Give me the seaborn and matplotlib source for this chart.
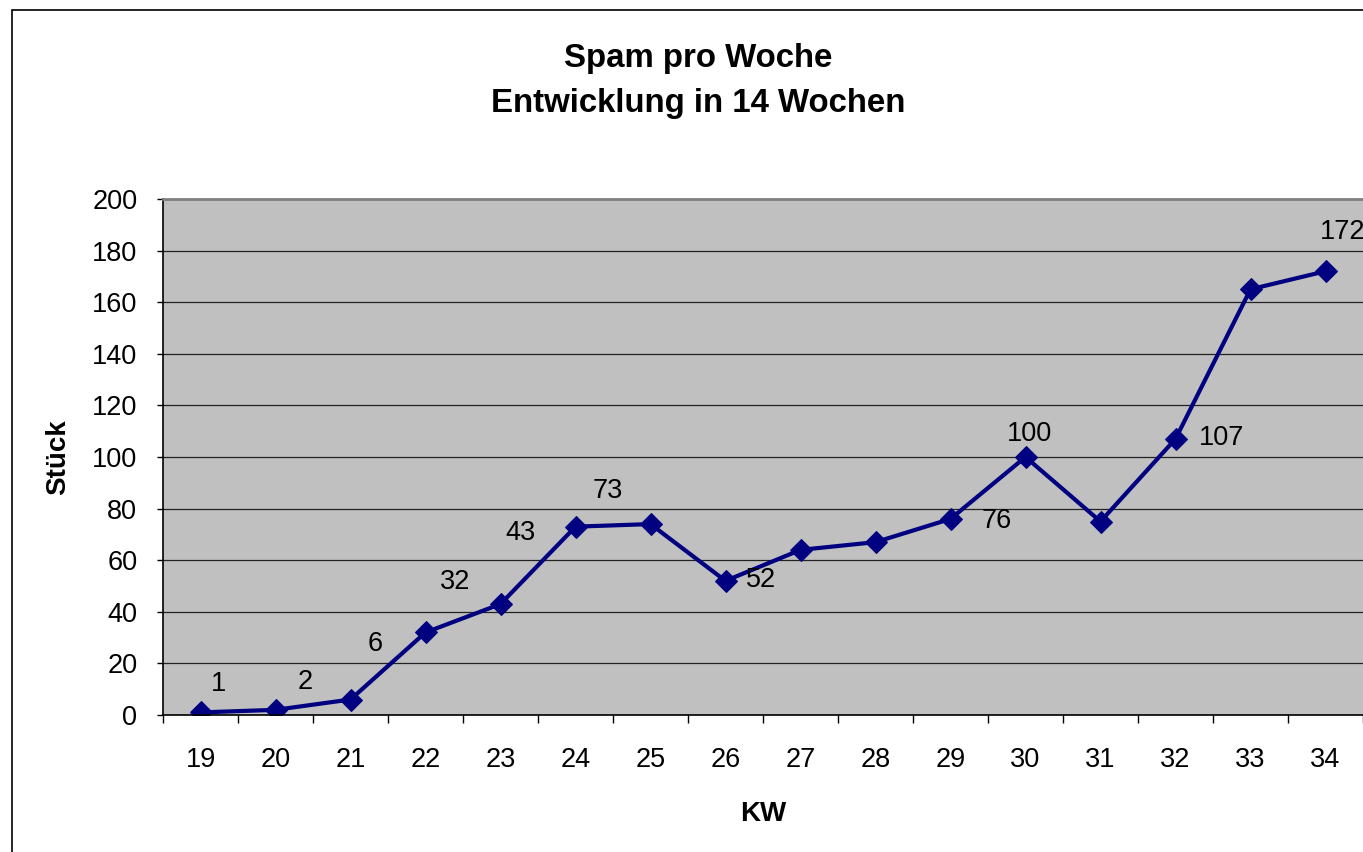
import matplotlib
matplotlib.use('Agg')
from matplotlib import pyplot as plt
from matplotlib.patches import Rectangle
import pandas as pd
import seaborn as sns

kw = [19, 20, 21, 22, 23, 24, 25, 26, 27, 28, 29, 30, 31, 32, 33, 34]
stueck = [1, 2, 6, 32, 43, 73, 74, 52, 64, 67, 76, 100, 75, 107, 165, 172]
# which points carry a value label
labelled = [19, 20, 21, 22, 23, 24, 26, 29, 30, 32, 34]

# label offsets in pixels (dx, dy) relative to the point
label_offsets = {19: (18, 28), 20: (30, 28), 21: (25, 56), 22: (30, 50),
                 23: (20, 71), 24: (32, 36), 26: (36, 1), 29: (46, -2),
                 30: (4, 23), 32: (46, 1), 34: (17, 39)}

df = pd.DataFrame({'KW': kw, 'Stück': stueck})

sns.set_style('white')
plt.rcParams['font.family'] = ['Liberation Sans', 'DejaVu Sans']
plt.rcParams['text.color'] = 'black'
plt.rcParams['axes.labelcolor'] = 'black'
plt.rcParams['xtick.color'] = 'black'
plt.rcParams['ytick.color'] = 'black'

fig = plt.figure(figsize=(13.63, 8.52), dpi=100)
axes = fig.add_axes([163/1363, 1 - 715/852, 1 - 163/1363, (715 - 199)/852])
axes.set_facecolor('#C0C0C0')

# outer chart border
fig.patches.append(Rectangle((12/1363, -0.1), 1.2, 1.1 - 10/852, transform=fig.transFigure,
                             fill=False, edgecolor='black', linewidth=1.2))

sns.lineplot(data=df, x='KW', y='Stück', ax=axes, color='#000080', linewidth=3,
             marker='D', markersize=11, markeredgecolor='#000080')

for k, v in zip(kw, stueck):
    if k in labelled:
        dx, dy = label_offsets[k]
        axes.annotate(str(v), (k, v), xytext=(dx, dy), textcoords='offset pixels',
                      ha='center', va='center', fontsize=19.5, color='black')

axes.set_xlim(kw[0] - 0.5, kw[-1] + 0.5)
axes.set_ylim(0, 200)
axes.set_yticks(range(0, 201, 20))
axes.set_xticks(kw)
axes.set_xticks([k - 0.5 for k in kw] + [kw[-1] + 0.5], minor=True)
axes.tick_params(axis='x', which='major', length=0, pad=23, labelsize=19.5)
axes.tick_params(axis='x', which='minor', length=6, direction='out', width=1, color='black',
                 bottom=True)
axes.tick_params(axis='y', length=4.5, direction='out', width=1, color='black', pad=14,
                 labelsize=19.5, left=True)
axes.grid(axis='y', color='#222222', linewidth=0.9)
axes.set_axisbelow(True)

for s in ['left', 'bottom']:
    axes.spines[s].set_color('black')
    axes.spines[s].set_linewidth(1.2)
axes.spines['top'].set_color('#808080')
axes.spines['top'].set_linewidth(2)
axes.spines['right'].set_visible(False)

axes.set_xlabel('KW', fontsize=20, fontweight='bold', labelpad=20)
axes.set_ylabel('Stück', fontsize=20, fontweight='bold', labelpad=15)

fig.text(698/1363, 1 - 81/852, 'Spam pro Woche\nEntwicklung in 14 Wochen', ha='center',
         va='center', fontsize=23.8, fontweight='bold', linespacing=1.6)

fig.savefig('out.png', dpi=100)
